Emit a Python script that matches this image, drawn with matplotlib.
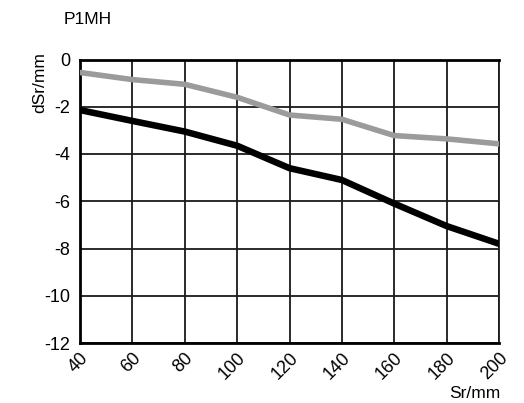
import numpy as np
import matplotlib.pyplot as plt
import matplotlib.transforms as mtransforms

# data
sr = [40, 60, 80, 100, 120, 140, 160, 180, 200]
gray_vals = [-0.55, -0.85, -1.05, -1.6, -2.35, -2.53, -3.22, -3.36, -3.57]
black_vals = [-2.14, -2.6, -3.05, -3.65, -4.6, -5.1, -6.1, -7.05, -7.8]
yticks = [0, -2, -4, -6, -8, -10, -12]

plt.rcParams['font.family'] = ['Liberation Sans', 'DejaVu Sans']
plt.rcParams['font.size'] = 12.5

fig = plt.figure(figsize=(5.24, 4.03), dpi=100)
ax = fig.add_axes([80/524, 1-343/403, 419/524, 283.5/403])

ax.plot(sr, gray_vals, color='#9b9b9b', lw=4.0, solid_joinstyle='round', zorder=3)
ax.plot(sr, black_vals, color='black', lw=4.7, solid_joinstyle='round', zorder=4)

ax.set_xlim(40, 200)
ax.set_ylim(-12, 0)
ax.set_xticks(sr)
ax.set_yticks(yticks)
ax.set_yticklabels(['0', '-2', '-4', '-6', '-8', '-10', '-12'])
ax.grid(True, color='#1a1a1a', lw=1.3)
ax.set_axisbelow(True)
ax.tick_params(length=0, labelsize=13)
ax.tick_params(axis='y', pad=7)
ax.tick_params(axis='x', pad=9)
for s in ['left', 'bottom', 'top']:
    ax.spines[s].set_linewidth(2.0)
ax.spines['right'].set_linewidth(1.3)
ax.spines['right'].set_color('#1a1a1a')

shift = mtransforms.ScaledTranslation(6/100, 0, fig.dpi_scale_trans)
for lab in ax.get_xticklabels():
    lab.set_rotation(45)
    lab.set_ha('right')
    lab.set_va('center')
    lab.set_rotation_mode('anchor')
    lab.set_transform(lab.get_transform() + shift)

fig.text(64/524, 1-19/403, 'P1MH', ha='left', va='center')
fig.text(39.5/524, 1-83/403, 'dSr/mm', rotation=90, ha='center', va='center')
fig.text(500/524, 1-394/403, 'Sr/mm', ha='right', va='center')

fig.savefig('out.png', dpi=100)
